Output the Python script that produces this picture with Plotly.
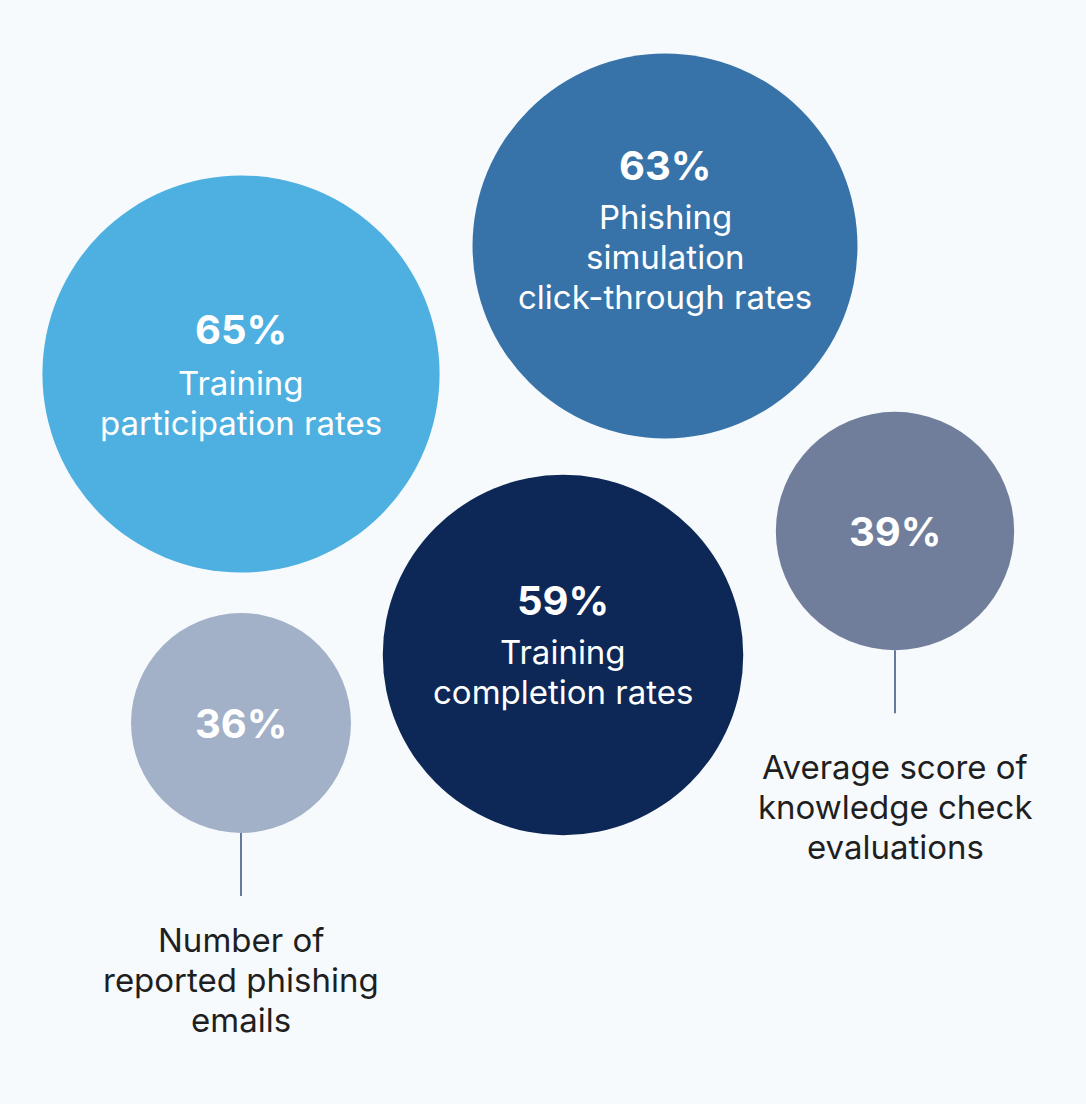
import plotly.graph_objects as go

# Data
values = [65, 63, 59, 39, 36]
value_labels = ["65%", "63%", "59%", "39%", "36%"]
categories = [
    "Training<br>participation rates",
    "Phishing<br>simulation<br>click-through rates",
    "Training<br>completion rates",
    "Average score of<br>knowledge check<br>evaluations",
    "Number of<br>reported phishing<br>emails",
]
inside_label = [True, True, True, False, False]

# Layout (positions in canvas units) and styles
bubble_x = [241, 665, 563, 895, 241]
bubble_y = [374, 246, 655, 531, 723]
pct_y = [329, 165, 600, 531, 723]
label_first_y = [383, 217, 652, 767, 940]
LINE_GAP = 40
colors = ["#4eb0e0", "#3773a8", "#0d2856", "#707e9b", "#a2b0c8"]
PX_PER_UNIT_DIAM = 6.11  # bubble diameter in px per value unit
W, H = 1086, 1104
FONT = "Inter, Lato, sans-serif"

fig = go.Figure()

# Connector lines for outside labels
for i, v in enumerate(values):
    if not inside_label[i]:
        r = v * PX_PER_UNIT_DIAM / 2
        y0 = bubble_y[i] + r
        fig.add_trace(go.Scatter(
            x=[bubble_x[i], bubble_x[i]], y=[y0, y0 + 63],
            mode="lines", line=dict(color="#33507e", width=1.5),
            hoverinfo="skip", showlegend=False))

fig.add_trace(go.Scatter(
    x=bubble_x, y=bubble_y, mode="markers",
    marker=dict(size=values, sizemode="diameter", sizeref=1 / PX_PER_UNIT_DIAM,
                color=colors, line=dict(width=0), opacity=1),
    hoverinfo="skip", showlegend=False))

for i in range(len(values)):
    fig.add_annotation(x=bubble_x[i], y=pct_y[i], text="<b>%s</b>" % value_labels[i],
                       showarrow=False, xanchor="center", yanchor="middle",
                       font=dict(family=FONT, size=40, color="white"))
    for j, line in enumerate(categories[i].split("<br>")):
        fig.add_annotation(x=bubble_x[i], y=label_first_y[i] + j * LINE_GAP, text=line,
                           showarrow=False, xanchor="center", yanchor="middle",
                           font=dict(family=FONT, size=33,
                                     color="white" if inside_label[i] else "#1f1f22"))

fig.update_layout(
    width=W, height=H, margin=dict(l=0, r=0, t=0, b=0),
    paper_bgcolor="#f6fafc", plot_bgcolor="#f6fafc",
    xaxis=dict(range=[0, W], visible=False, fixedrange=True),
    yaxis=dict(range=[H, 0], visible=False, fixedrange=True),
)

fig.write_html("out.html", config={"displayModeBar": False},
               post_script="document.body.style.margin='0';document.body.style.background='#f6fafc';")
